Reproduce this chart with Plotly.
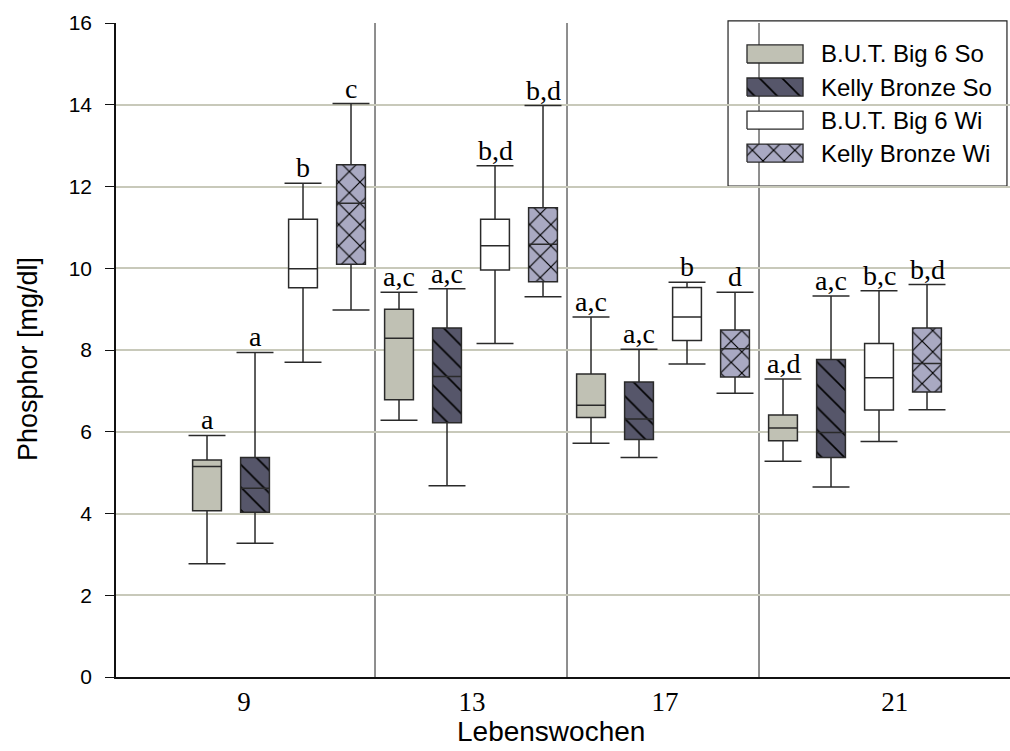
import plotly.graph_objects as go

# ---- data: serum phosphorus (mg/dl) per week of life ----
weeks = ["9", "13", "17", "21"]
series_names = ["B.U.T. Big 6 So", "Kelly Bronze So", "B.U.T. Big 6 Wi", "Kelly Bronze Wi"]

# five-number summaries per week: [lower whisker, q1, median, q3, upper whisker]
but_so = [[2.77, 4.07, 5.15, 5.31, 5.91],
          [6.28, 6.78, 8.29, 9.00, 9.41],
          [5.72, 6.35, 6.65, 7.41, 8.81],
          [5.28, 5.78, 6.09, 6.41, 7.29]]
kelly_so = [[3.27, 4.03, 4.62, 5.37, 7.94],
            [4.68, 6.22, 7.35, 8.54, 9.50],
            [5.37, 5.81, 6.31, 7.22, 8.02],
            [4.65, 5.37, 5.98, 7.77, 9.32]]
but_wi = [[7.70, 9.52, 9.99, 11.20, 12.08],
          [8.16, 9.96, 10.55, 11.20, 12.51],
          [7.66, 8.23, 8.81, 9.53, 9.66],
          [5.76, 6.53, 7.32, 8.16, 9.45]]
kelly_wi = [[8.98, 10.10, 11.59, 12.53, 14.03],
            [9.30, 9.67, 10.59, 11.48, 13.98],
            [6.94, 7.34, 8.03, 8.49, 9.41],
            [6.54, 6.97, 7.67, 8.54, 9.60]]

# significance letters above each box
letters_but_so = ["a", "a,c", "a,c", "a,d"]
letters_kelly_so = ["a", "a,c", "a,c", "a,c"]
letters_but_wi = ["b", "b,d", "b", "b,c"]
letters_kelly_wi = ["c", "b,d", "d", "b,d"]

# ---- styling ----
fills = ["#c0c1b4", "#56566a", "#ffffff", "#a9a9c2"]
patterns = ["", "\\", "", "x"]
pattern_sizes = [16, 16, 16, 15]
pattern_solidity = [0.1, 0.1, 0.1, 0.15]
EDGE = "#2a2a2a"
SANS = "Arial, Liberation Sans, sans-serif"
SERIF = "Times New Roman, Liberation Serif, serif"

BOX_W = 0.6        # box width in x units
CAP_HALF = 0.385   # half-width of whisker caps
X_RANGE = [-1.896, 16.729]
week_label_pos = [0.77, 5.52, 9.54, 14.33]

all_series = [but_so, kelly_so, but_wi, kelly_wi]
all_letters = [letters_but_so, letters_kelly_so, letters_but_wi, letters_kelly_wi]
n_series = len(all_series)


def pattern_for(s):
    return dict(shape=patterns[s], fgcolor="#000000", bgcolor=fills[s],
                fgopacity=1, size=pattern_sizes[s], solidity=pattern_solidity[s])


fig = go.Figure()

annotations = []
cap_x, cap_y = [], []
for s, (stats, fill) in enumerate(zip(all_series, fills)):
    pos = [n_series * g + s for g in range(len(weeks))]
    low = [r[0] for r in stats]
    q1 = [r[1] for r in stats]
    med = [r[2] for r in stats]
    q3 = [r[3] for r in stats]
    high = [r[4] for r in stats]

    # patterned box body
    fig.add_trace(go.Bar(
        x=pos, y=[b - a for a, b in zip(q1, q3)], base=q1, width=BOX_W,
        marker=dict(color=fill, line=dict(width=0), pattern=pattern_for(s)),
        showlegend=False, hoverinfo="skip"))

    # outline, median and whiskers
    fig.add_trace(go.Box(
        x=pos, lowerfence=low, q1=q1, median=med, q3=q3, upperfence=high,
        width=BOX_W, whiskerwidth=0, boxpoints=False,
        fillcolor="rgba(0,0,0,0)", line=dict(color=EDGE, width=1.5),
        showlegend=False, hoverinfo="skip"))

    for p, lo, hi in zip(pos, low, high):
        cap_x += [p - CAP_HALF, p + CAP_HALF, None, p - CAP_HALF, p + CAP_HALF, None]
        cap_y += [lo, lo, None, hi, hi, None]

    for p, hi, txt in zip(pos, high, all_letters[s]):
        annotations.append(dict(x=p, y=hi, xref="x", yref="y", text=txt,
                                showarrow=False, yanchor="bottom", yshift=-2,
                                font=dict(family=SERIF, size=28, color="black")))

fig.add_trace(go.Scatter(x=cap_x, y=cap_y, mode="lines",
                         line=dict(color=EDGE, width=1.5),
                         showlegend=False, hoverinfo="skip"))

# ---- legend drawn on an overlay axis in paper units ----
LEG_X0, LEG_X1, LEG_Y0, LEG_Y1 = 0.6846, 0.9966, 0.7508, 1.0031
SW_X0, SW_X1 = 0.7058, 0.7685
ROW_TOP, ROW_STEP, SW_HALF = 0.9526, 0.0505, 0.0138
TXT_X = 0.7860
for s, (name, fill) in enumerate(zip(series_names, fills)):
    yc = ROW_TOP - s * ROW_STEP
    fig.add_trace(go.Scatter(
        x=[SW_X0, SW_X1, SW_X1, SW_X0, SW_X0],
        y=[yc - SW_HALF, yc - SW_HALF, yc + SW_HALF, yc + SW_HALF, yc - SW_HALF],
        xaxis="x2", yaxis="y2", mode="lines", fill="toself",
        fillcolor=fill, line=dict(color=EDGE, width=1.3),
        fillpattern=dict(pattern_for(s), fillmode="replace"),
        showlegend=False, hoverinfo="skip"))
    annotations.append(dict(x=TXT_X, y=yc, xref="paper", yref="paper", text=name,
                            showarrow=False, xanchor="left", yanchor="middle",
                            font=dict(family=SANS, size=24, color="black")))

shapes = [dict(type="rect", xref="paper", yref="paper",
               x0=LEG_X0, x1=LEG_X1, y0=LEG_Y0, y1=LEG_Y1,
               line=dict(color="#222222", width=1.2), fillcolor="white", layer="below")]

# vertical separators between week groups
for g in range(1, len(weeks)):
    shapes.append(dict(type="line", xref="x", yref="paper",
                       x0=n_series * g - 0.5, x1=n_series * g - 0.5, y0=0, y1=1,
                       line=dict(color="#444444", width=1.2), layer="below"))

# axis titles
annotations.append(dict(x=-0.099, y=0.487, xref="paper", yref="paper",
                        text="Phosphor [mg/dl]", textangle=-90, showarrow=False,
                        xanchor="center", yanchor="middle",
                        font=dict(family=SANS, size=27, color="black")))
annotations.append(dict(x=0.487, y=-0.083, xref="paper", yref="paper",
                        text="Lebenswochen", showarrow=False,
                        xanchor="center", yanchor="middle",
                        font=dict(family=SANS, size=28, color="black")))

fig.update_layout(
    width=1010, height=751,
    margin=dict(l=116, r=0, t=23, b=74),
    paper_bgcolor="white", plot_bgcolor="white",
    barmode="overlay", boxmode="overlay",
    showlegend=False,
    annotations=annotations, shapes=shapes,
    xaxis=dict(range=X_RANGE, tickvals=week_label_pos, ticktext=weeks,
               showgrid=False, zeroline=False, showline=True,
               linecolor="#111111", linewidth=1.5, ticks="",
               tickfont=dict(family=SERIF, size=27, color="black")),
    yaxis=dict(range=[0, 16], tickvals=list(range(0, 17, 2)),
               showgrid=True, gridcolor="#c8c9ba", gridwidth=2,
               zeroline=False, showline=True, linecolor="#111111", linewidth=1.5,
               ticks="outside", ticklen=9, tickcolor="#111111", tickwidth=1.3,
               ticklabelstandoff=9,
               tickfont=dict(family=SANS, size=21, color="black")),
    xaxis2=dict(overlaying="x", range=[0, 1], visible=False, fixedrange=True),
    yaxis2=dict(overlaying="y", range=[0, 1], visible=False, fixedrange=True),
)

fig.write_html("out.html")
